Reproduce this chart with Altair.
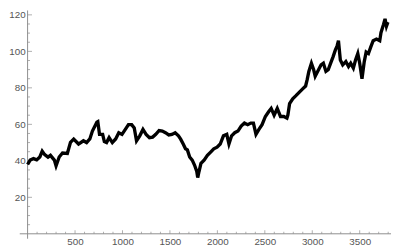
import altair as alt
import pandas as pd

# series (index, value)
xs = [0, 27, 62, 96, 129, 154, 180, 215, 241, 282, 300, 333, 368, 419, 452, 486,
      537, 588, 622, 656, 683, 730, 740, 758, 791, 809, 832, 859, 893, 928, 961,
      995, 1030, 1063, 1097, 1124, 1148, 1182, 1216, 1249, 1284, 1318, 1351, 1386,
      1420, 1453, 1488, 1521, 1555, 1590, 1613, 1640, 1664, 1684, 1708, 1735, 1759,
      1783, 1793, 1806, 1827, 1860, 1895, 1929, 1962, 1997, 2030, 2064, 2099, 2122,
      2150, 2183, 2217, 2251, 2285, 2319, 2353, 2380, 2407, 2438, 2471, 2506, 2540,
      2567, 2598, 2631, 2665, 2700, 2733, 2743, 2761, 2794, 2828, 2862, 2896, 2930,
      2947, 2964, 2991, 3015, 3031, 3066, 3093, 3117, 3144, 3168, 3194, 3219, 3242,
      3263, 3276, 3296, 3321, 3354, 3382, 3405, 3433, 3456, 3480, 3500, 3524, 3548,
      3568, 3592, 3616, 3642, 3677, 3711, 3724, 3751, 3767, 3782, 3797]
ys = [38.0, 40.4, 41.2, 40.5, 42.1, 45.3, 43.4, 42.0, 43.0, 40.4, 37.2, 42.1, 44.3,
      44.0, 50.1, 51.9, 49.2, 51.0, 50.0, 52.0, 56.3, 61.2, 61.5, 54.5, 54.5, 50.5,
      50.0, 52.7, 50.0, 52.0, 55.4, 54.5, 57.2, 59.8, 59.8, 58.0, 51.0, 53.7, 57.2,
      54.5, 52.7, 53.0, 54.5, 56.6, 56.3, 55.4, 54.2, 54.5, 55.4, 53.7, 51.9, 49.2,
      46.6, 46.0, 42.1, 40.4, 37.7, 34.2, 30.8, 34.0, 38.6, 40.4, 43.0, 44.8, 46.6,
      47.5, 49.2, 53.7, 54.5, 49.2, 53.7, 55.4, 56.3, 59.0, 60.7, 59.8, 60.7, 60.7,
      54.5, 57.2, 59.8, 64.3, 66.9, 68.7, 65.0, 68.7, 64.3, 64.3, 63.4, 65.1, 71.3,
      74.0, 75.7, 77.5, 79.3, 81.0, 84.6, 89.0, 93.5, 89.9, 86.4, 89.9, 92.6, 93.5,
      89.0, 89.9, 93.5, 97.0, 100.5, 103.2, 105.8, 95.2, 92.6, 94.4, 91.7, 93.5, 90.8,
      95.2, 98.8, 93.5, 85.0, 94.4, 99.6, 98.8, 102.3, 105.8, 106.7, 105.8, 110.2,
      114.7, 117.8, 113.8, 116.0]

x_major = [500, 1000, 1500, 2000, 2500, 3000, 3500]
x_minor = [100, 200, 300, 400, 600, 700, 800, 900, 1100, 1200, 1300, 1400, 1600,
           1700, 1800, 1900, 2100, 2200, 2300, 2400, 2600, 2700, 2800, 2900, 3100,
           3200, 3300, 3400, 3600, 3700, 3800]
y_major = [20, 40, 60, 80, 100, 120]
y_minor = [5, 10, 15, 25, 30, 35, 45, 50, 55, 65, 70, 75, 85, 90, 95, 105, 110, 115]

AX = "#8c8c8c"
LAB = "#555555"
FONT = "Liberation Sans"

xscale = alt.Scale(domain=[-82.6, 3830], nice=False, zero=False)
yscale = alt.Scale(domain=[-2.7, 122.4], nice=False, zero=False)

xaxis = alt.Axis(values=x_major, format="d", grid=False, domain=False, ticks=False,
                 tickSize=0, labelPadding=3, offset=-5, labelFont=FONT,
                 labelFontSize=10, labelColor=LAB, title=None, labelFlush=False)
yaxis = alt.Axis(values=y_major, format="d", grid=False, domain=False, ticks=False,
                 tickSize=0, labelPadding=2.5, offset=-8, labelFont=FONT,
                 labelFontSize=10, labelColor=LAB, title=None, labelFlush=False)

df = pd.DataFrame({"x": xs, "y": ys})

series = alt.Chart(df).mark_line(color="black", strokeWidth=3.4, strokeJoin="miter").encode(
    x=alt.X("x:Q", scale=xscale, axis=xaxis),
    y=alt.Y("y:Q", scale=yscale, axis=yaxis),
)

zero = pd.DataFrame({"x": [0], "y": [0]})
xline = alt.Chart(zero).mark_rule(color=AX, strokeWidth=1).encode(y=alt.Y("y:Q", scale=yscale, axis=yaxis))
yline = alt.Chart(zero).mark_rule(color=AX, strokeWidth=1).encode(x=alt.X("x:Q", scale=xscale, axis=xaxis))

def xticks(vals, size):
    return alt.Chart(pd.DataFrame({"x": vals})).mark_tick(
        orient="vertical", size=size, thickness=1, color=AX, yOffset=-size / 2
    ).encode(x=alt.X("x:Q", scale=xscale, axis=xaxis), y=alt.datum(0))

def yticks(vals, size):
    return alt.Chart(pd.DataFrame({"y": vals})).mark_tick(
        orient="horizontal", size=size, thickness=1, color=AX, xOffset=size / 2
    ).encode(y=alt.Y("y:Q", scale=yscale, axis=yaxis), x=alt.datum(0))

chart = alt.layer(
    xline, yline,
    xticks(x_major, 3.5), xticks(x_minor, 2),
    yticks(y_major, 4.5), yticks(y_minor, 2.5),
    series,
).properties(
    width=379, height=233,
    autosize=alt.AutoSizeParams(type="none"),
    padding={"left": 12, "top": 0, "right": 1, "bottom": 10},
).configure_view(stroke=None)

chart.save("out.html", embed_options={"renderer": "svg", "actions": False})
